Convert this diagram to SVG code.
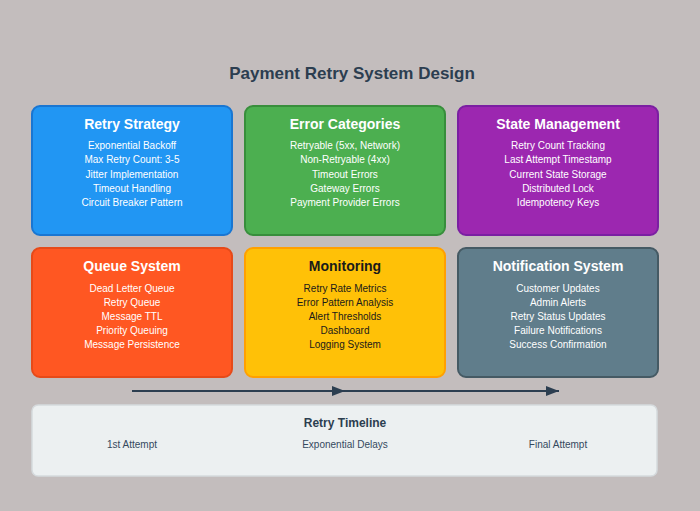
<svg xmlns="http://www.w3.org/2000/svg" width="700" height="511" viewBox="0 0 700 511">
  <defs>
    <marker id="arrow" markerWidth="13" markerHeight="10" refX="13" refY="5" orient="auto" markerUnits="userSpaceOnUse">
      <path d="M0,0 L13,5 L0,10 Z" fill="#2c3e50"/>
    </marker>
    <style>
      text { font-family: "Liberation Sans", Arial, sans-serif; text-anchor: middle; }
      .title { font-size: 17px; font-weight: bold; fill: #2c3e50; }
      .box { stroke-width: 2; }
      .h { font-size: 14px; font-weight: bold; fill: #ffffff; }
      .i { font-size: 10px; fill: #ffffff; }
      .dark .h, .dark .i { fill: #1a1a1a; }
      .tl-h { font-size: 12px; font-weight: bold; fill: #2c3e50; }
      .tl-i { font-size: 10px; fill: #34495e; }
      .conn { stroke: #2c3e50; stroke-width: 2; fill: none; }
    </style>
  </defs>
  <rect x="0" y="0" width="700" height="511" fill="#c3bdbd"/>
  <text class="title" x="352" y="79">Payment Retry System Design</text>

  <g id="retry-strategy">
    <rect class="box" x="32" y="106" width="200" height="129" rx="8" fill="#2196F3" stroke="#1976D2"/>
    <text class="h" x="132" y="129">Retry Strategy</text>
    <text class="i" x="132" y="149">Exponential Backoff</text>
    <text class="i" x="132" y="163">Max Retry Count: 3-5</text>
    <text class="i" x="132" y="178">Jitter Implementation</text>
    <text class="i" x="132" y="192">Timeout Handling</text>
    <text class="i" x="132" y="206">Circuit Breaker Pattern</text>
  </g>

  <g id="error-categories">
    <rect class="box" x="245" y="106" width="200" height="129" rx="8" fill="#4CAF50" stroke="#388E3C"/>
    <text class="h" x="345" y="129">Error Categories</text>
    <text class="i" x="345" y="149">Retryable (5xx, Network)</text>
    <text class="i" x="345" y="163">Non-Retryable (4xx)</text>
    <text class="i" x="345" y="178">Timeout Errors</text>
    <text class="i" x="345" y="192">Gateway Errors</text>
    <text class="i" x="345" y="206">Payment Provider Errors</text>
  </g>

  <g id="state-management">
    <rect class="box" x="458" y="106" width="200" height="129" rx="8" fill="#9C27B0" stroke="#7B1FA2"/>
    <text class="h" x="558" y="129">State Management</text>
    <text class="i" x="558" y="149">Retry Count Tracking</text>
    <text class="i" x="558" y="163">Last Attempt Timestamp</text>
    <text class="i" x="558" y="178">Current State Storage</text>
    <text class="i" x="558" y="192">Distributed Lock</text>
    <text class="i" x="558" y="206">Idempotency Keys</text>
  </g>

  <g id="queue-system">
    <rect class="box" x="32" y="248" width="200" height="129" rx="8" fill="#FF5722" stroke="#E64A19"/>
    <text class="h" x="132" y="271">Queue System</text>
    <text class="i" x="132" y="292">Dead Letter Queue</text>
    <text class="i" x="132" y="306">Retry Queue</text>
    <text class="i" x="132" y="320">Message TTL</text>
    <text class="i" x="132" y="334">Priority Queuing</text>
    <text class="i" x="132" y="348">Message Persistence</text>
  </g>

  <g id="monitoring" class="dark">
    <rect class="box" x="245" y="248" width="200" height="129" rx="8" fill="#FFC107" stroke="#FFA000"/>
    <text class="h" x="345" y="271">Monitoring</text>
    <text class="i" x="345" y="292">Retry Rate Metrics</text>
    <text class="i" x="345" y="306">Error Pattern Analysis</text>
    <text class="i" x="345" y="320">Alert Thresholds</text>
    <text class="i" x="345" y="334">Dashboard</text>
    <text class="i" x="345" y="348">Logging System</text>
  </g>

  <g id="notification-system">
    <rect class="box" x="458" y="248" width="200" height="129" rx="8" fill="#607D8B" stroke="#455A64"/>
    <text class="h" x="558" y="271">Notification System</text>
    <text class="i" x="558" y="292">Customer Updates</text>
    <text class="i" x="558" y="306">Admin Alerts</text>
    <text class="i" x="558" y="320">Retry Status Updates</text>
    <text class="i" x="558" y="334">Failure Notifications</text>
    <text class="i" x="558" y="348">Success Confirmation</text>
  </g>

  <g id="connectors">
    <line class="conn" x1="132" y1="391" x2="345" y2="391" marker-end="url(#arrow)"/>
    <line class="conn" x1="345" y1="391" x2="559" y2="391" marker-end="url(#arrow)"/>
  </g>

  <g id="retry-timeline">
    <rect x="32" y="405" width="625" height="71" rx="6" fill="#ecf0f1" stroke="#d5dadd" stroke-width="1.5"/>
    <text class="tl-h" x="345" y="427">Retry Timeline</text>
    <text class="tl-i" x="132" y="448">1st Attempt</text>
    <text class="tl-i" x="345" y="448">Exponential Delays</text>
    <text class="tl-i" x="558" y="448">Final Attempt</text>
  </g>
</svg>
